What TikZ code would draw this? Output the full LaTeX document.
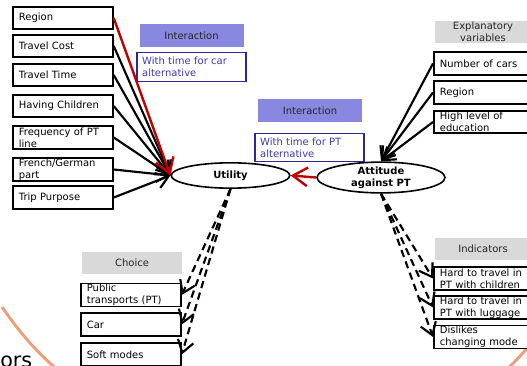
\documentclass[tikz,border=0pt]{standalone}
\usepackage{fontspec}
\setmainfont{DejaVu Sans}
\usetikzlibrary{arrows.meta,shapes.geometric}

\definecolor{interfill}{RGB}{136,136,224}
\definecolor{noteblue}{RGB}{40,40,150}
\definecolor{notetext}{RGB}{60,60,180}
\definecolor{labelgray}{RGB}{217,217,217}
\definecolor{arrowred}{RGB}{192,0,0}
\definecolor{arcsalmon}{RGB}{238,158,125}

\begin{document}
\begin{tikzpicture}[
  x=0.75pt, y=-0.75pt,
  every node/.style={font=\fontsize{7.5}{9}\selectfont},
  box/.style={draw, line width=1.3pt, fill=white, anchor=west, minimum height=17pt, text width=66pt, inner xsep=4.5pt, inner ysep=0.5pt, align=left},
  gbox/.style={fill=labelgray, text=black!85, minimum width=72pt, minimum height=17pt, align=center, inner sep=1pt},
  ibox/.style={fill=interfill, text=black!85, minimum width=78pt, minimum height=17pt},
  note/.style={draw=noteblue, line width=1pt, fill=white, text=notetext, text width=74pt, inner xsep=3.9pt, minimum height=20.5pt, align=left},
  lv/.style={ellipse, draw, line width=1.2pt, fill=white, inner sep=0pt, align=center, font=\fontsize{7.5}{9}\selectfont\bfseries},
  arr/.style={line width=1.6pt, -{Straight Barb[length=9pt,width=12pt]}},
  redarr/.style={line width=1.8pt, draw=arrowred, -{Straight Barb[length=11pt,width=14pt]}},
  dasharr/.style={arr, dash pattern=on 5.5pt off 3.5pt}
]
\useasboundingbox (0,0) rectangle (527,366);
\clip (0,0) rectangle (527,366);

% background arc pieces and cut title
\draw[arcsalmon, line width=2.2pt] (2,307) .. controls (18,330) and (36,352) .. (58,370);
\draw[arcsalmon, line width=2.2pt] (506,370) .. controls (516,361) and (526,350) .. (535,339);
\node[anchor=base west, inner sep=0pt, font=\fontsize{15.5}{15.5}\selectfont] (ors) at (0,367) {ors};

% explanatory variables of utility
\node[box] (region) at (12,18) {Region};
\node[box] (cost) at (12,46) {Travel Cost};
\node[box] (time) at (12,75) {Travel Time};
\node[box] (children) at (12,106) {Having Children};
\node[box] (freq) at (12,137.5) {Frequency of PT\\line};
\node[box] (lang) at (12,169.5) {French/German\\part};
\node[box] (purpose) at (12,197.5) {Trip Purpose};

% interactions
\node[ibox] (inter1) at (191.5,35.5) {Interaction};
\node[note] (note1) at (191.5,67) {With time for car\\alternative};
\node[ibox] (inter2) at (310,110.5) {Interaction};
\node[note] (note2) at (309.5,147.5) {With time for PT\\alternative};

% latent variables
\node[lv, minimum width=89pt, minimum height=19pt] (utility) at (230.5,175.5) {Utility};
\node[lv, minimum width=96pt, minimum height=22pt] (attitude) at (381,177.5) {Attitude\\against PT};

% explanatory variables of attitude
\node[gbox] (expl) at (483,32) {Explanatory\\variables};
\node[box] (ncars) at (433,63.5) {Number of cars};
\node[box] (region2) at (433,92.5) {Region};
\node[box] (educ) at (433,122) {High level of\\education};

% choice
\node[gbox, minimum width=75pt] (choice) at (132,263) {Choice};
\node[box] (pt) at (80,295) {Public\\transports (PT)};
\node[box] (car) at (80,324.5) {Car};
\node[box] (soft) at (80,354.5) {Soft modes};

% indicators
\node[gbox] (indic) at (483,249) {Indicators};
\node[box] (child) at (433,278.5) {Hard to travel in\\PT with children};
\node[box] (lugg) at (433,307.5) {Hard to travel in\\PT with luggage};
\node[box] (dislike) at (433,337) {Dislikes\\changing mode};

% structural arrows
\foreach \src in {cost,time,children,freq,lang,purpose}
  \draw[arr] (\src.east) -- (utility.west);
\draw[redarr] (region.east) -- (utility.west);
\draw[redarr] (attitude.west) -- (utility.east);
\foreach \src in {ncars,region2,educ}
  \draw[arr] (\src.west) -- (attitude.north);

% measurement arrows
\foreach \dst in {pt,car,soft}
  \draw[dasharr] (utility.south) -- (\dst.east);
\foreach \dst in {child,lugg,dislike}
  \draw[dasharr] (attitude.south) -- (\dst.west);
\end{tikzpicture}
\end{document}
